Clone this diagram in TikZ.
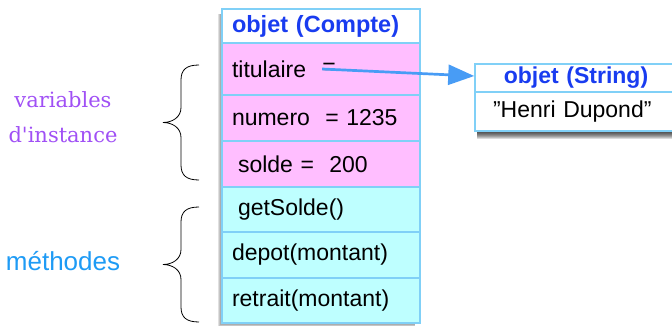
\documentclass[tikz,border=0pt]{standalone}
\usepackage{fontspec}
\setsansfont{Liberation Sans}
\newfontfamily\labelserif{DejaVu Serif}
\usetikzlibrary{arrows.meta,backgrounds}

\definecolor{bordc}{RGB}{128,208,247}
\definecolor{varfill}{RGB}{255,190,255}
\definecolor{methfill}{RGB}{190,255,255}
\definecolor{headblue}{RGB}{25,60,240}
\definecolor{arrowblue}{RGB}{72,156,245}
\definecolor{varlabel}{RGB}{160,80,245}
\definecolor{methlabel}{RGB}{30,155,245}

\tikzset{
  row/.style={draw=bordc, line width=1.5pt, minimum width=198pt, text width=178pt,
    inner xsep=10pt, inner ysep=0pt, align=left, anchor=center,
    font=\sffamily\fontsize{23}{27}\selectfont},
  header/.style={row, fill=white, text=headblue, font=\sffamily\bfseries\fontsize{23.5}{27}\selectfont},
  varrow/.style={row, fill=varfill},
  methrow/.style={row, fill=methfill},
  strrow/.style={draw=bordc, line width=1.5pt, minimum width=202pt, text width=166pt,
    inner xsep=18pt, inner ysep=0pt, align=left, anchor=center, fill=white,
    font=\sffamily\fontsize{23}{27}\selectfont},
  ref/.style={draw=arrowblue, line width=2.7pt, -{Triangle[length=26pt,width=20pt]}},
  grouplabel/.style={align=center, inner sep=0pt},
  pics/curlbrace/.style={code={
    \draw[line width=0.8pt] (36,57.5) .. controls (23,57.5) and (18,52.5) .. (18,42.5)
      -- (18,15) .. controls (18,5) and (9,0) .. (0,0)
      .. controls (9,0) and (18,-5) .. (18,-15)
      -- (18,-42.5) .. controls (18,-52.5) and (23,-57.5) .. (36,-57.5);
  }}
}

\begin{document}
\begin{tikzpicture}[x=1pt,y=1pt]
\useasboundingbox (0,0) rectangle (672,325);
\clip (0,0) rectangle (672,325);

% object of class Compte
\node[header, minimum height=34pt] (head) at (321,299) {objet (Compte)};
\node[varrow, minimum height=52pt] (titulaire) at (321,256) {titulaire};
\node[varrow, minimum height=46pt] (numero) at (321,207) {numero \ = 1235};
\node[varrow, minimum height=46pt] (solde) at (321,161) {\hspace*{6pt}solde = \ 200};
\node[methrow, minimum height=45pt] (getsolde) at (321,115.5) {\hspace*{6pt}getSolde()};
\node[methrow, minimum height=46pt] (depot) at (321,70) {depot(montant)};
\node[methrow, minimum height=45pt] (retrait) at (321,24.5) {retrait(montant)};
\node[inner sep=0pt, font=\sffamily\fontsize{23}{27}\selectfont] (eq) at (329,256) {=};

% object of class String
\node[strrow, minimum height=39pt] (strbody) at (576,213.5) {\char"22Henri Dupond\char"22};
\node[strrow, minimum height=28pt, align=center, text=headblue,
      font=\sffamily\bfseries\fontsize{23}{27}\selectfont]
      (strhead) at (576,247) {objet (String)};

% soft shadows under both objects
\begin{pgfonlayer}{background}
  \foreach \d in {1,...,7}{
    \fill[black, opacity=0.14]
      ([xshift=3pt, yshift=10pt]strbody.south west) rectangle ([xshift=4pt, yshift=-\d pt]strbody.south east);
  }
  \foreach \d in {1,...,3}{
    \fill[black, opacity=0.12]
      ([xshift=-\d pt, yshift=-\d pt]retrait.south west) rectangle ([xshift=-6pt, yshift=-6pt]head.north east);
  }
\end{pgfonlayer}

% reference held by the field titulaire
\draw[ref] (eq.west) -- ([yshift=2pt]strhead.west);

% braces and group labels
\pic at (163,202.5) {curlbrace};
\pic at (163,60.5) {curlbrace};
\node[grouplabel, text=varlabel, font=\labelserif\fontsize{21}{35}\selectfont] (varlab) at (63,207.5) {variables\\d\char"27instance};
\node[grouplabel, text=methlabel, font=\sffamily\fontsize{26}{30}\selectfont] (methlab) at (63,64) {méthodes};
\end{tikzpicture}
\end{document}
